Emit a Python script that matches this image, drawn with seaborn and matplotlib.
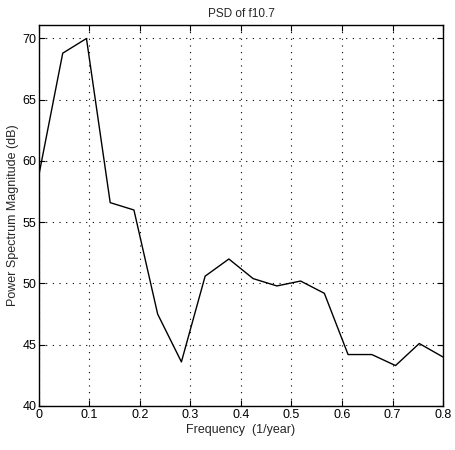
import matplotlib
matplotlib.use("Agg")
import matplotlib.pyplot as plt
import seaborn as sns
import pandas as pd

freq = [0.0, 0.047, 0.094, 0.141, 0.188, 0.235, 0.282, 0.329, 0.376,
        0.424, 0.471, 0.518, 0.565, 0.612, 0.659, 0.706, 0.753, 0.8]
psd_db = [58.9, 68.8, 70.0, 56.6, 56.0, 47.5, 43.6, 50.6, 52.0,
          50.4, 49.8, 50.2, 49.2, 44.2, 44.2, 43.3, 45.1, 44.0]
xticks = [0, 0.1, 0.2, 0.3, 0.4, 0.5, 0.6, 0.7, 0.8]
xticklabels = ["0", "0.1", "0.2", "0.3", "0.4", "0.5", "0.6", "0.7", "0.8"]
yticks = [40, 45, 50, 55, 60, 65, 70]

sns.set_style("ticks")
plt.rcParams['font.family'] = ['Liberation Sans', 'DejaVu Sans']

df = pd.DataFrame({"freq": freq, "psd": psd_db})

fig = plt.figure(figsize=(4.56, 4.5), dpi=100)
ax = fig.add_axes([0.0855, 0.0978, 0.886, 0.8466])
sns.lineplot(data=df, x="freq", y="psd", ax=ax, color="black", linewidth=1.0)

ax.set_xlim(0, 0.8)
ax.set_ylim(40, 71.1)
ax.set_xticks(xticks)
ax.set_xticklabels(xticklabels)
ax.set_yticks(yticks)
ax.tick_params(direction="in", length=4, width=0.8, labelsize=9, colors="black",
               top=True, right=True, pad=2)
ax.grid(True, linestyle=(0, (1, 5)), color="black", linewidth=0.8)
for s in ax.spines.values():
    s.set_visible(True)
    s.set_color("black")
    s.set_linewidth(1.0)

ax.set_title("PSD of f10.7", fontsize=8.5, pad=6)
ax.set_xlabel("Frequency  (1/year)", fontsize=9, labelpad=2)
ax.set_ylabel("Power Spectrum Magnitude (dB)", fontsize=9, labelpad=2)

fig.savefig("out.png", dpi=100)
